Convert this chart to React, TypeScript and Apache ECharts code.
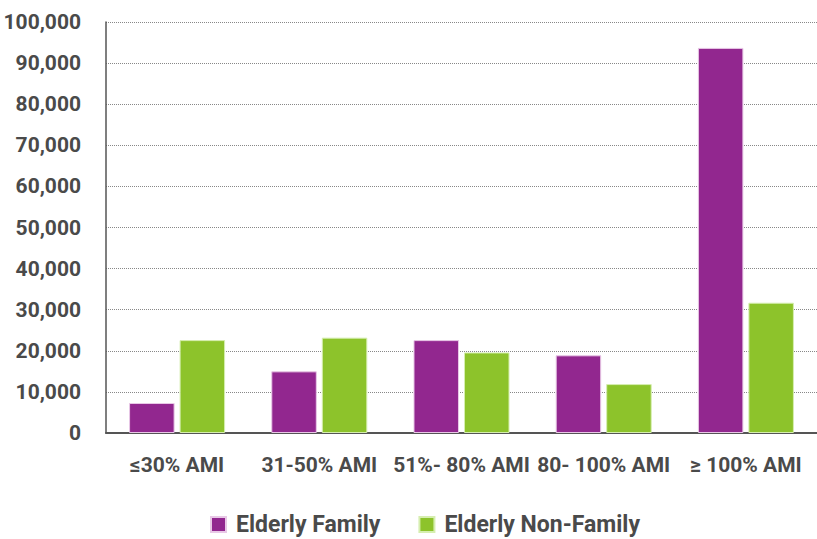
import React, { useEffect, useRef } from "react";
import * as echarts from "echarts";

const categories = ["≤30% AMI", "31-50% AMI", "51%- 80% AMI", "80- 100% AMI", "≥ 100% AMI"];
const elderlyFamily = [7300, 15000, 22600, 18900, 93700];
const elderlyNonFamily = [22600, 23200, 19600, 11900, 31700];
const seriesNames = ["Elderly Family", "Elderly Non-Family"];

const FONT = "Roboto, 'Liberation Sans', Arial, sans-serif";

export default function App() {
  const ref = useRef<HTMLDivElement>(null);
  useEffect(() => {
    if (!ref.current) return;
    const chart = echarts.init(ref.current, null, { renderer: "svg" });
    chart.setOption({
      animation: false,
      backgroundColor: "#ffffff",
      grid: { left: 106, right: 0, top: 22, bottom: 106, containLabel: false, outerBoundsMode: "none" },
      legend: {
        bottom: -2,
        left: 205,
        itemWidth: 15,
        itemHeight: 15,
        itemGap: 38,
        icon: "rect",
        textStyle: { fontFamily: FONT, fontSize: 23, fontWeight: "bold", color: "#4a4a4a", padding: [0, 0, 0, 5] },
        data: seriesNames,
      },
      xAxis: {
        type: "category",
        data: categories,
        axisLine: { lineStyle: { color: "#555", width: 2 } },
        axisTick: { show: false },
        axisLabel: { fontFamily: FONT, fontSize: 21, fontWeight: "bold", color: "#4a4a4a", margin: 21, interval: 0 },
      },
      yAxis: {
        type: "value",
        min: 0,
        max: 100000,
        interval: 10000,
        axisLine: { show: true, lineStyle: { color: "#555", width: 1.5 } },
        axisTick: { show: false },
        axisLabel: {
          fontFamily: FONT,
          fontSize: 21,
          fontWeight: "bold",
          color: "#4a4a4a",
          margin: 25,
          formatter: (v: number) => v.toLocaleString("en-US"),
        },
        splitLine: { lineStyle: { color: "#888", type: "dotted", width: 1 } },
      },
      series: [
        {
          name: seriesNames[0],
          type: "bar",
          data: elderlyFamily,
          barWidth: "32%",
          barGap: "11%",
          itemStyle: { color: "#92278f", borderColor: "#e8c8e6", borderWidth: 1 },
        },
        {
          name: seriesNames[1],
          type: "bar",
          data: elderlyNonFamily,
          barWidth: "32%",
          barGap: "11%",
          itemStyle: { color: "#8dc32b", borderColor: "#d6eeb0", borderWidth: 1 },
        },
      ],
    });
    return () => chart.dispose();
  }, []);
  return <div ref={ref} style={{ width: 817, height: 539, position: "absolute", left: 0, top: 0 }} />;
}
